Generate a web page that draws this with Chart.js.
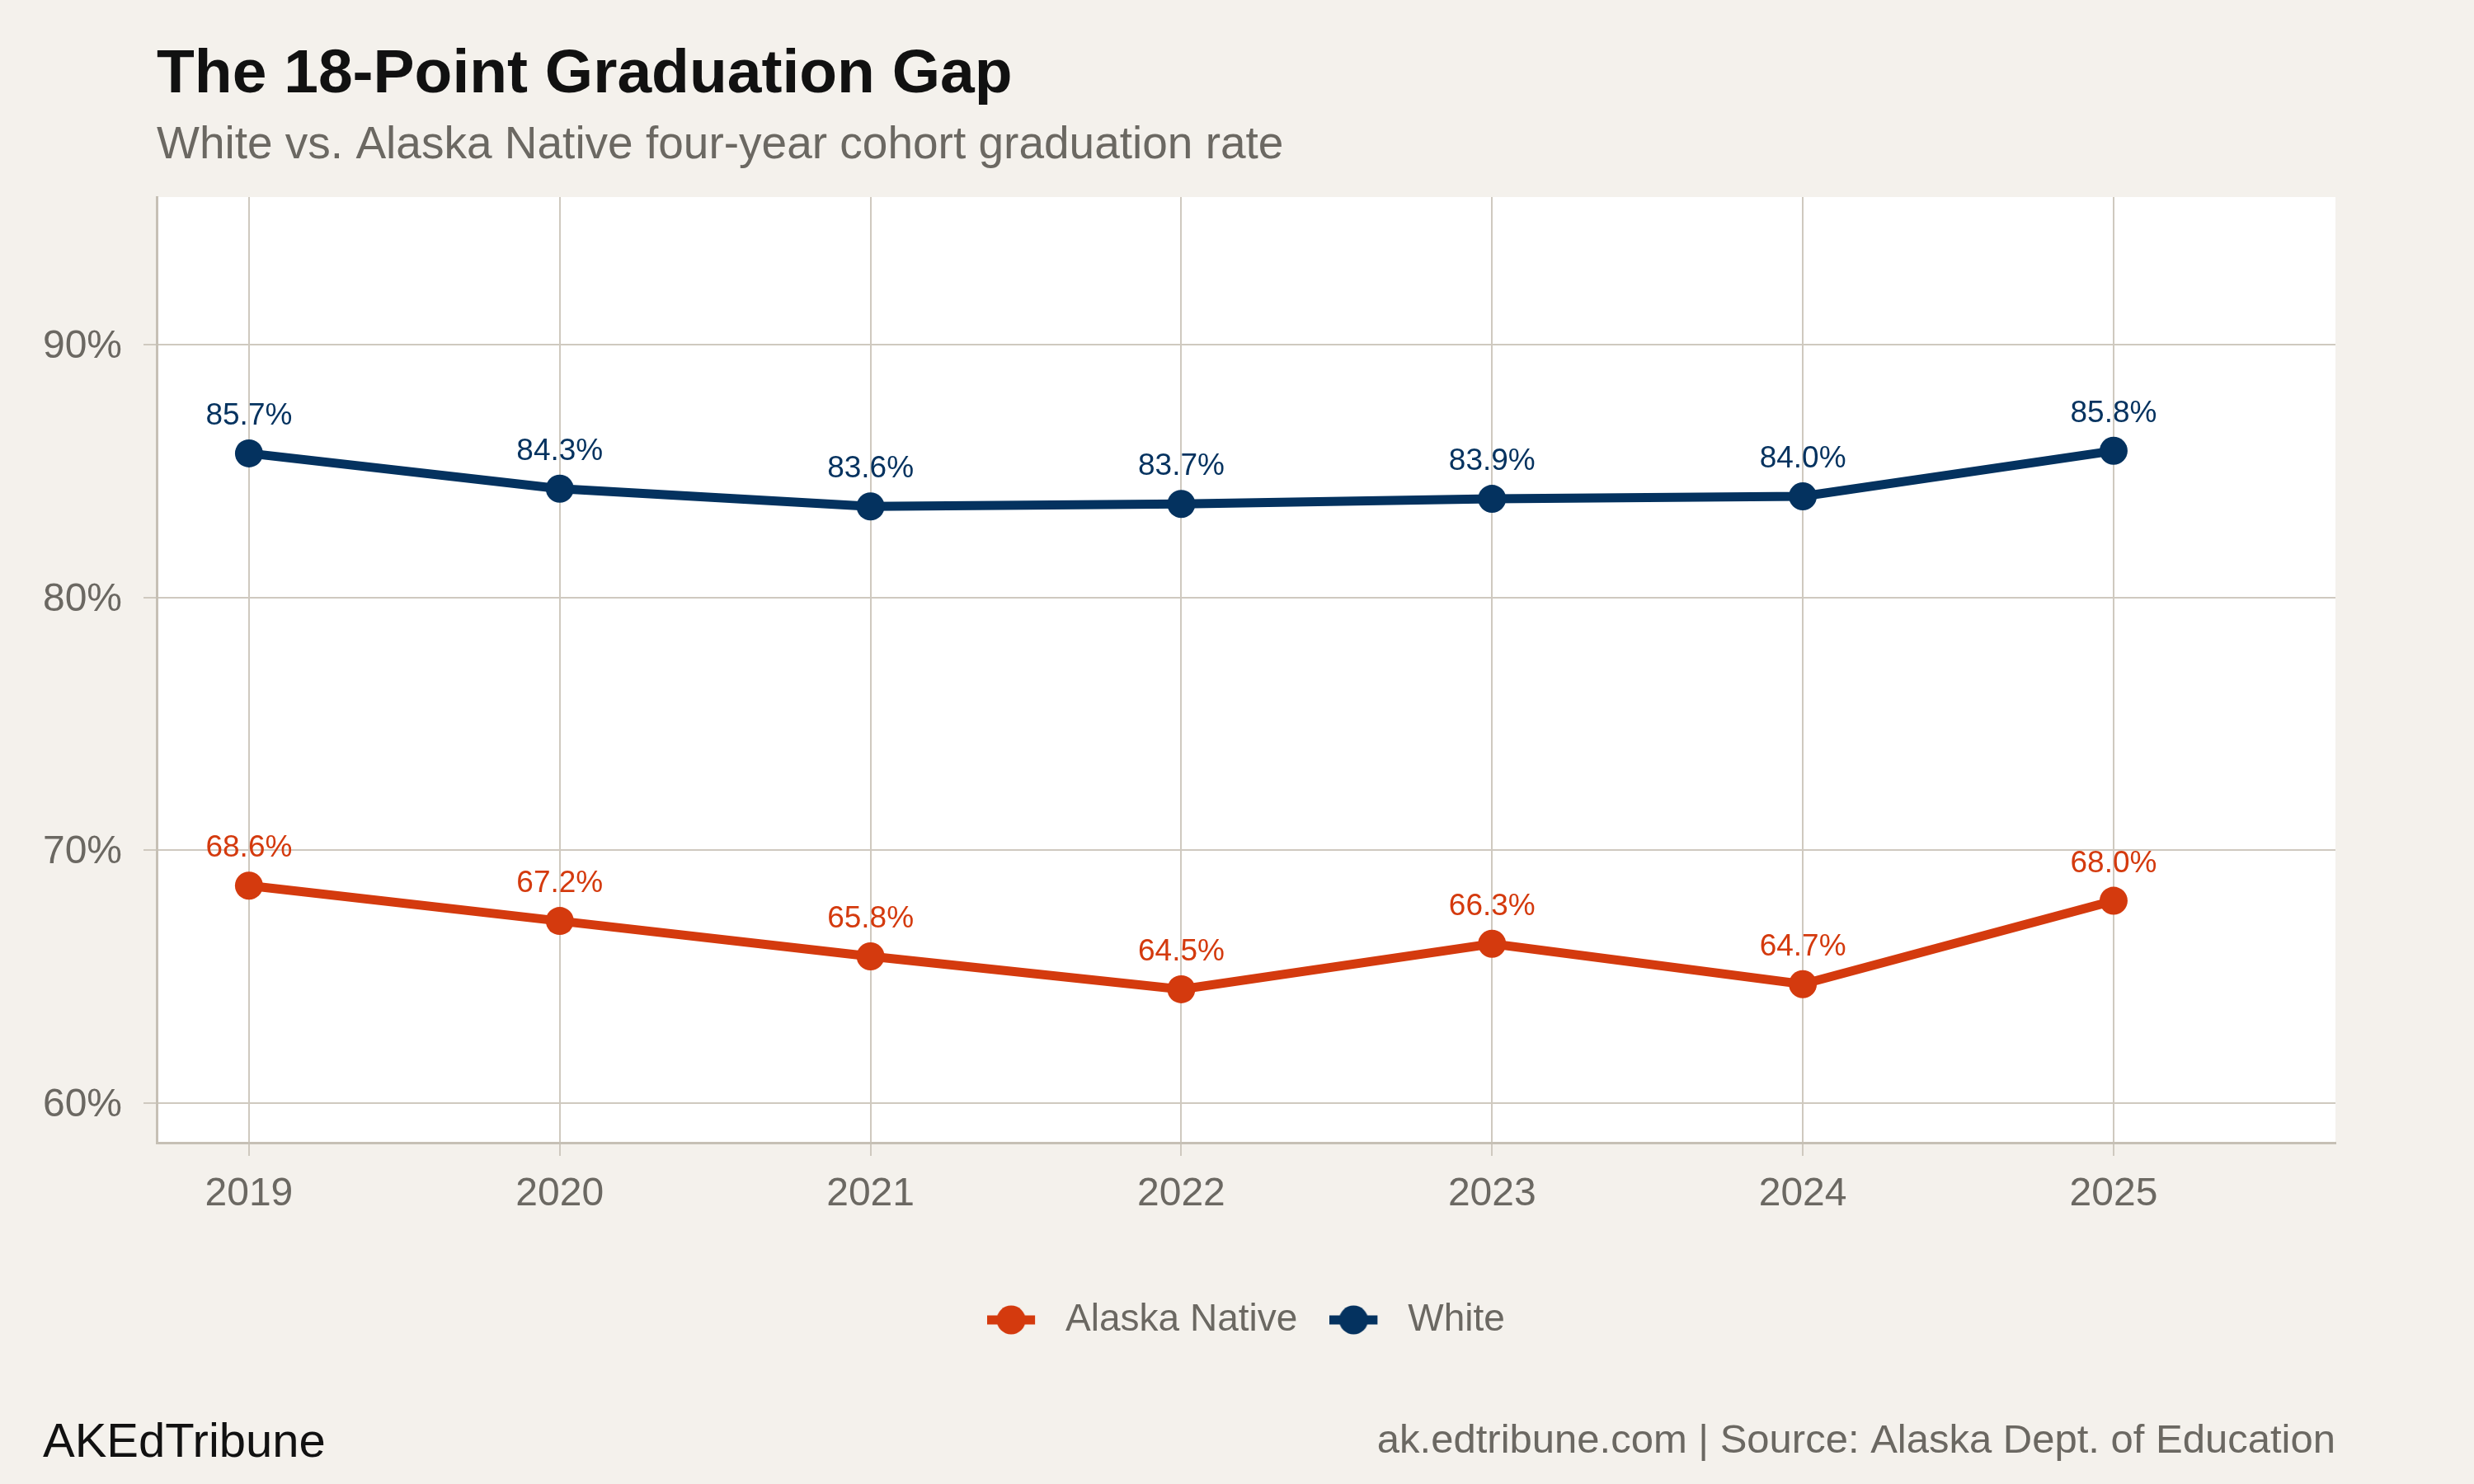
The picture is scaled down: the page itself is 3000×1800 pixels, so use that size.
<!DOCTYPE html>
<html>
<head>
<meta charset="utf-8">
<script src="https://cdn.jsdelivr.net/npm/chart.js@4"></script>
<style>
  html, body { margin: 0; padding: 0; background: #f4f1ec; }
  #grafico { display: block; }
</style>
</head>
<body>
<canvas id="grafico" width="3000" height="1800"></canvas>
<script>
// data
var years = [2019, 2020, 2021, 2022, 2023, 2024, 2025];
var alaskaNative = [68.6, 67.2, 65.8, 64.5, 66.3, 64.7, 68.0];
var white = [85.7, 84.3, 83.6, 83.7, 83.9, 84.0, 85.8];
var seriesNames = ['Alaska Native', 'White'];
var yTicks = [60, 70, 80, 90];

var titleText = 'The 18-Point Graduation Gap';
var subtitleText = 'White vs. Alaska Native four-year cohort graduation rate';
var brandText = 'AKEdTribune';
var sourceText = 'ak.edtribune.com | Source: Alaska Dept. of Education';

var ORANGE = '#d43a0e';
var NAVY = '#04325f';
var GREY = '#6b6862';
var GRID = '#cfc9bf';
var AXIS = '#c6c0b5';
var FONT = "'Liberation Sans', Arial, Helvetica, sans-serif";

Chart.defaults.font.family = FONT;

function toPoints(values) {
    var pts = [];
    for (var i = 0; i < years.length; i++) {
        pts.push({ x: years[i], y: values[i] });
    }
    return pts;
}

// legend marker: short line with a dot on it
function legendMarker(color) {
    var c = document.createElement('canvas');
    c.width = 72;
    c.height = 40;
    var g = c.getContext('2d');
    g.fillStyle = color;
    g.fillRect(0, 14.5, 58, 11);
    g.beginPath();
    g.arc(29, 20, 17.5, 0, Math.PI * 2);
    g.fill();
    return c;
}
var markers = [legendMarker(ORANGE), legendMarker(NAVY)];

var backgroundPlugin = {
    id: 'background',
    beforeDraw: function (chart) {
        var ctx = chart.ctx;
        var a = chart.chartArea;
        ctx.save();
        ctx.fillStyle = '#f4f1ec';
        ctx.fillRect(0, 0, chart.width, chart.height);
        ctx.fillStyle = '#ffffff';
        ctx.fillRect(a.left, a.top, a.right - a.left, a.bottom - a.top);
        ctx.restore();
    }
};

var valueLabels = {
    id: 'valueLabels',
    afterDatasetsDraw: function (chart) {
        var ctx = chart.ctx;
        ctx.save();
        ctx.font = '37px ' + FONT;
        ctx.textAlign = 'center';
        ctx.textBaseline = 'alphabetic';
        chart.data.datasets.forEach(function (ds, d) {
            var meta = chart.getDatasetMeta(d);
            ctx.fillStyle = ds.borderColor;
            meta.data.forEach(function (pt, i) {
                ctx.fillText(ds.data[i].y.toFixed(1) + '%', pt.x, pt.y - 35);
            });
        });
        ctx.restore();
    }
};

var headerFooter = {
    id: 'headerFooter',
    afterDraw: function (chart) {
        var ctx = chart.ctx;
        var left = chart.chartArea.left;
        ctx.save();
        ctx.textBaseline = 'alphabetic';
        ctx.textAlign = 'left';
        ctx.fillStyle = '#111111';
        ctx.font = 'bold 75px ' + FONT;
        ctx.fillText(titleText, left, 112);
        ctx.fillStyle = GREY;
        ctx.font = '55px ' + FONT;
        ctx.fillText(subtitleText, left, 192);
        ctx.fillStyle = '#111111';
        ctx.font = '58px ' + FONT;
        ctx.fillText(brandText, 52, 1767);
        ctx.fillStyle = GREY;
        ctx.font = '49px ' + FONT;
        ctx.textAlign = 'right';
        ctx.fillText(sourceText, chart.chartArea.right, 1762);
        ctx.restore();
    }
};

function lineDataset(label, values, color) {
    return {
        label: label,
        data: toPoints(values),
        borderColor: color,
        backgroundColor: color,
        borderWidth: 11,
        pointRadius: 17,
        pointHoverRadius: 17,
        pointBorderWidth: 0,
        pointBackgroundColor: color,
        tension: 0,
        clip: false
    };
}

var ctx = document.getElementById('grafico');
var chart = new Chart(ctx, {
    type: 'line',
    data: {
        datasets: [
            lineDataset(seriesNames[0], alaskaNative, ORANGE),
            lineDataset(seriesNames[1], white, NAVY)
        ]
    },
    options: {
        responsive: false,
        animation: false,
        devicePixelRatio: 1,
        layout: { padding: { left: 0, right: 168, top: 239, bottom: 166 } },
        scales: {
            x: {
                type: 'linear',
                min: 2018.703,
                max: 2025.714,
                afterBuildTicks: function (scale) {
                    scale.ticks = years.map(function (y) { return { value: y }; });
                },
                afterFit: function (scale) { scale.height = 153; },
                ticks: {
                    color: GREY,
                    font: { size: 48 },
                    padding: 18,
                    maxRotation: 0,
                    autoSkip: false,
                    callback: function (v) { return String(v); }
                },
                grid: { color: GRID, lineWidth: 2, tickLength: 16, tickColor: GRID },
                border: { color: AXIS, width: 3 }
            },
            y: {
                min: 58.43,
                max: 95.84,
                afterBuildTicks: function (scale) {
                    scale.ticks = yTicks.map(function (v) { return { value: v }; });
                },
                afterFit: function (scale) { scale.width = 190; },
                ticks: {
                    color: GREY,
                    font: { size: 48 },
                    padding: 26,
                    labelOffset: 3,
                    callback: function (v) { return v + '%'; }
                },
                grid: { color: GRID, lineWidth: 2, tickLength: 16, tickColor: GRID },
                border: { color: AXIS, width: 3 }
            }
        },
        plugins: {
            tooltip: { enabled: false },
            title: { display: false },
            legend: {
                display: true,
                position: 'bottom',
                fullSize: false,
                labels: {
                    usePointStyle: true,
                    pointStyleWidth: 72,
                    padding: 39,
                    color: GREY,
                    font: { size: 46 },
                    generateLabels: function (chart) {
                        var items = Chart.defaults.plugins.legend.labels.generateLabels(chart);
                        items.forEach(function (item, i) {
                            item.pointStyle = markers[i];
                        });
                        return items;
                    }
                }
            }
        }
    },
    plugins: [backgroundPlugin, valueLabels, headerFooter]
});
</script>
</body>
</html>
